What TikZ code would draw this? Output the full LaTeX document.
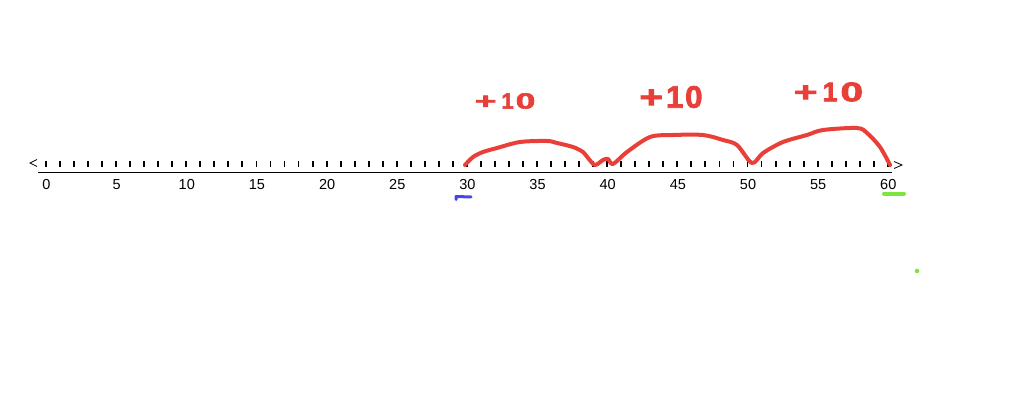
\documentclass[tikz,border=0pt]{standalone}
\usepackage{fontspec}
\setmainfont{Liberation Sans}
\newfontfamily\handfont[FakeBold=2.5]{Liberation Sans Bold}
\usepackage{xcolor,graphicx}
\usetikzlibrary{calc}
\definecolor{hopred}{RGB}{232,64,56}
\definecolor{markblue}{RGB}{72,72,232}
\definecolor{markgreen}{RGB}{126,228,64}
\newcommand{\wide}[2]{\scalebox{#1}[1]{#2}}
\begin{document}
\begin{tikzpicture}[x = 1pt, y = -1pt,
    tick/.style = {line width = 1.9pt},
    num/.style = {font = \fontsize{14.5}{14.5}\selectfont, inner sep = 0pt},
    hop/.style = {draw = hopred, line width = 4pt, line cap = round, line join = round},
    hoplabel/.style = {text = hopred, inner sep = 0pt}]
          \useasboundingbox (0,0) rectangle (1014,401);
          % number line
          \coordinate (lend) at (38,172);
          \coordinate (rend) at (892,172);
          \draw[line width = 1pt] (lend) -- (rend);
          \draw[line width = 0.8pt] (37,159.5) -- (30,163) -- (37,166.5);
          \draw[line width = 0.8pt] (894,161.5) -- (902,165) -- (894,168.5);
          \foreach \i in {0,...,60} {
              \coordinate (t\i) at ({46 + 14.03*\i}, 164);
              \draw[tick] ($(t\i) + (0,-3)$) -- ($(t\i) + (0,3)$);
          }
          \foreach \i in {0,5,...,60} {
              \node[num] (l\i) at ({46.5 + 14.03*\i}, 184.5) {\i};
          }
          % jumps
          \draw[hop] plot[smooth, tension = 0.5] coordinates {
              (465,165) (473,157) (483,152) (497,148) (520,142) (547,141)
              (557,143) (573,147) (583,152) (588,158) (595,165) (603,160)
              (608,159) (613,164) (627,152) (650,137) (673,135) (703,135)
              (723,140) (737,145) (752,163) (763,153) (783,142) (807,135)
              (823,130) (857,128) (867,133) (880,147) (890,165)};
          \node[hoplabel, font = \fontsize{22}{22}\handfont] (j1) at (505,101)
              {\wide{1.7}{+}\hspace{5pt}1\hspace{2pt}\wide{1.6}{0}};
          \node[hoplabel, font = \fontsize{31}{31}\handfont] (j2) at (671,97)
              {\wide{1.3}{+}\hspace{3pt}1\hspace{2pt}0};
          \node[hoplabel, font = \fontsize{27}{27}\handfont] (j3) at (828.5,92)
              {\wide{1.5}{+}\hspace{5pt}1\hspace{3pt}\wide{1.5}{0}};
          % marks
          \draw[markblue, line width = 3pt, line cap = round, line join = round] (456,199.5) -- (456,196.5) -- (471,197);
          \draw[markgreen, line width = 4pt, line cap = round] (884,193.5) -- (904,193.5);
          \fill[markgreen] (917,271) circle (2.3);
        \end{tikzpicture}
\end{document}
